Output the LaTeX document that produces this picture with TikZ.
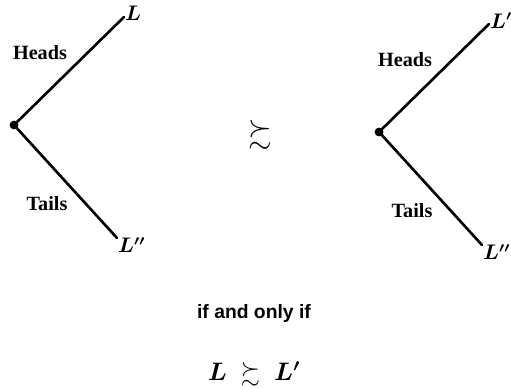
\documentclass[tikz,border=0pt]{standalone}
\usepackage{amsmath}
\usepackage{amssymb}
\usepackage{fontspec}
\setmainfont{Liberation Serif}
\newfontfamily\captionfont{Liberation Sans}
\begin{document}
\begin{tikzpicture}[x=0.02cm, y=-0.02cm,
    branch/.style={line width=1.5pt, line cap=round},
    outcome/.style={font=\large, anchor=west, inner sep=0.5pt},
    side/.style={font=\fontsize{11.5}{13}\selectfont\bfseries},
    rootdot/.style={circle, fill=black, inner sep=0pt, minimum size=5pt}]
    % --- Configuration ---
    \def\upX{110}     % horizontal reach of the Heads branch
    \def\upY{-108}    % vertical reach of the Heads branch
    \def\downX{103}   % horizontal reach of the Tails branch
    \def\downY{113}   % vertical reach of the Tails branch

    % --- Page frame ---
    \useasboundingbox (0,0) rectangle (511,387);

    % --- The two lotteries ---
    \foreach \ox/\oy/\prize/\nm in {14/125/L/left, 379/132/L'/right} {
        \node[rootdot] (root\nm) at (\ox, \oy) {};
        \coordinate (heads\nm) at ({\ox + \upX}, {\oy + \upY});
        \coordinate (tails\nm) at ({\ox + \downX}, {\oy + \downY});
        \draw[branch] (root\nm.center) -- (heads\nm);
        \draw[branch] (root\nm.center) -- (tails\nm);
        \node[outcome] (top\nm) at ([yshift=2]heads\nm) {$\boldsymbol{\prize}$};
        \node[outcome] (bot\nm) at ([yshift=-4]tails\nm) {$\boldsymbol{L''}$};
        \node[side] (hlabel\nm) at ({\ox + 26}, {\oy - 72}) {Heads};
        \node[side] (tlabel\nm) at ({\ox + 33}, {\oy + 79}) {Tails};
    }

    % --- Relation between the lotteries ---
    \node[font=\LARGE] (rel) at (260, 135) {$\boldsymbol{\succsim}$};

    % --- Condition ---
    \node[font=\fontsize{11}{13}\selectfont\captionfont\bfseries] (iff) at (254, 313) {if and only if};
    \node[font=\fontsize{14}{16}\selectfont] (cond) at (254, 374) {$\boldsymbol{L} \;\boldsymbol{\succsim}\; \boldsymbol{L'}$};
\end{tikzpicture}
\end{document}
